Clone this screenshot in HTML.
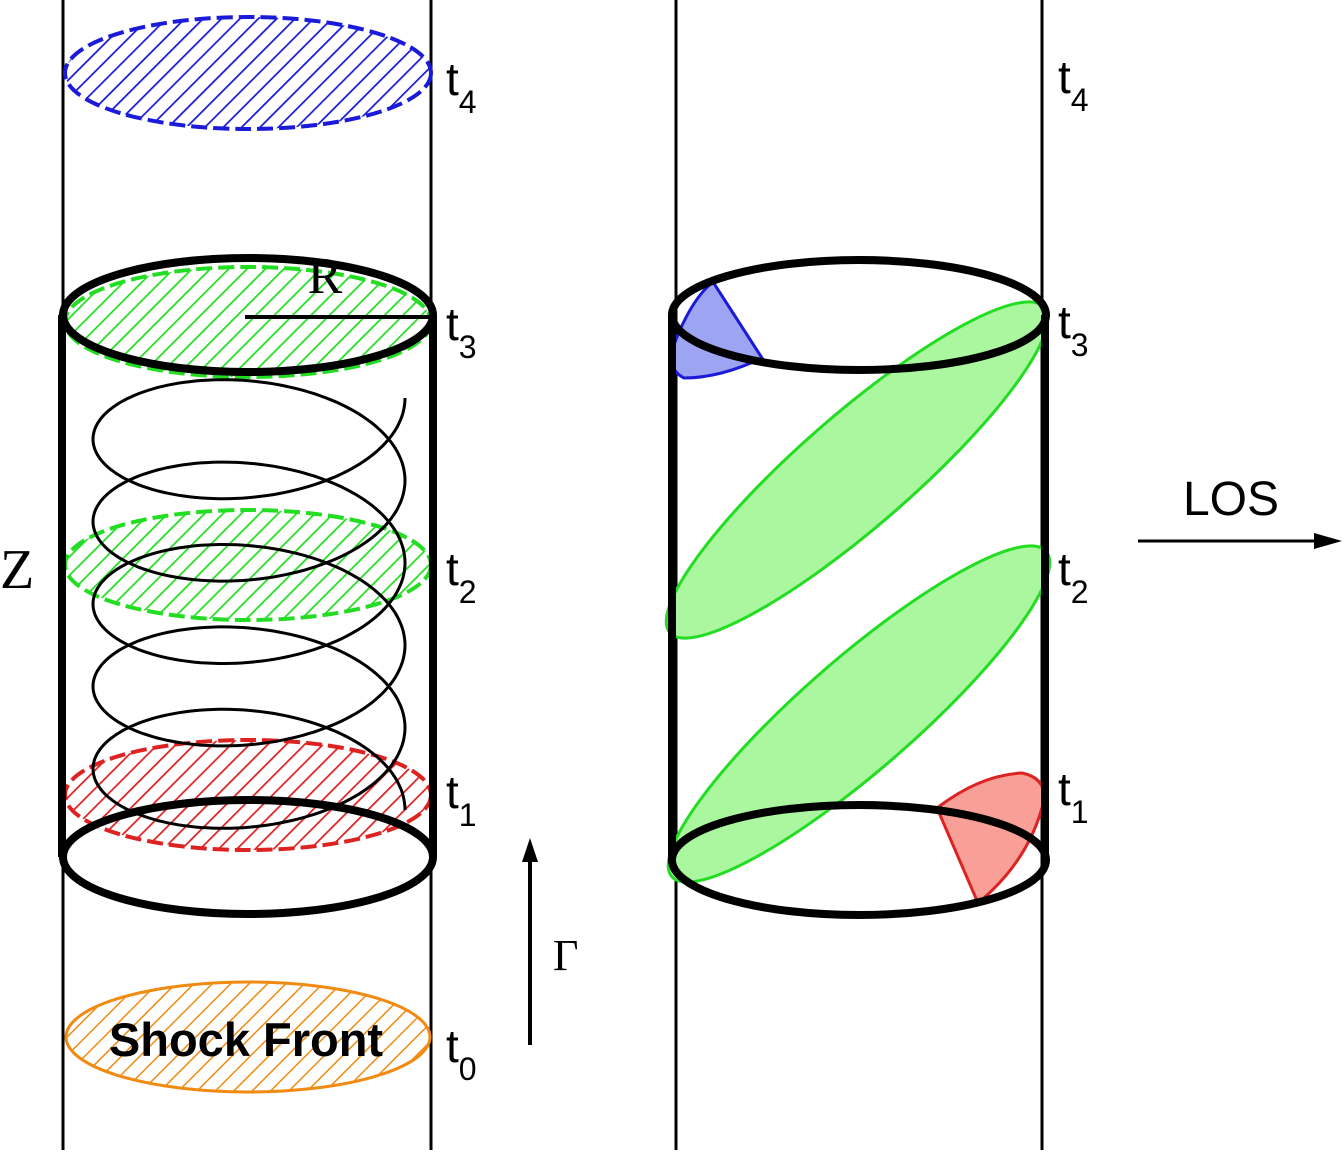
<!DOCTYPE html>
<html><head><meta charset="utf-8"><style>
html,body{margin:0;padding:0;background:#fff;}
svg{display:block;}
text{font-family:"Liberation Sans",sans-serif;}
.serif{font-family:"Liberation Serif",serif;}
</style></head><body>
<svg width="1344" height="1153" viewBox="0 0 1344 1153">
<defs>
<pattern id="hb" width="13" height="13" patternUnits="userSpaceOnUse" patternTransform="rotate(45)"><line x1="0" y1="0" x2="0" y2="13" stroke="#1a1ad8" stroke-width="3.5"/></pattern>
<pattern id="hg" width="13" height="13" patternUnits="userSpaceOnUse" patternTransform="rotate(45)"><line x1="0" y1="0" x2="0" y2="13" stroke="#22dd22" stroke-width="3.5"/></pattern>
<pattern id="hr" width="13" height="13" patternUnits="userSpaceOnUse" patternTransform="rotate(45)"><line x1="0" y1="0" x2="0" y2="13" stroke="#dd2222" stroke-width="3.5"/></pattern>
<pattern id="ho" width="13" height="13" patternUnits="userSpaceOnUse" patternTransform="rotate(45)"><line x1="0" y1="0" x2="0" y2="13" stroke="#f08a10" stroke-width="3"/></pattern>
</defs>

<!-- LEFT PANEL -->
<g>
<line x1="63" y1="0" x2="63" y2="1150" stroke="#000" stroke-width="3"/>
<line x1="431" y1="0" x2="431" y2="1150" stroke="#000" stroke-width="3"/>
<ellipse cx="248" cy="73" rx="183" ry="56" fill="url(#hb)" stroke="#1a1ad8" stroke-width="4" stroke-dasharray="16 6"/>
<ellipse cx="248" cy="322" rx="183" ry="55" fill="url(#hg)" stroke="#22dd22" stroke-width="4" stroke-dasharray="16 6"/>
<ellipse cx="248" cy="565" rx="183" ry="55" fill="url(#hg)" stroke="#22dd22" stroke-width="4" stroke-dasharray="16 6"/>
<ellipse cx="248" cy="795" rx="183" ry="55" fill="url(#hr)" stroke="#dd2222" stroke-width="4" stroke-dasharray="16 6"/>
<ellipse cx="248" cy="1037" rx="182" ry="55" fill="url(#ho)" stroke="#f08a10" stroke-width="3"/>
<text x="246" y="1056" text-anchor="middle" font-size="47" font-weight="bold">Shock Front</text>
<path id="helix" fill="none" stroke="#000" stroke-width="3"/>
<line x1="62" y1="315" x2="62" y2="857" stroke="#000" stroke-width="8"/>
<line x1="433" y1="315" x2="433" y2="857" stroke="#000" stroke-width="8"/>
<ellipse cx="248" cy="315" rx="185" ry="57" fill="none" stroke="#000" stroke-width="8"/>
<ellipse cx="248" cy="857" rx="185" ry="57" fill="none" stroke="#000" stroke-width="8"/>
<line x1="245" y1="317" x2="431" y2="317" stroke="#000" stroke-width="4"/>
<text x="325" y="293" text-anchor="middle" font-size="52" class="serif">R</text>
<text x="0" y="588" font-size="56" class="serif">Z</text>
<line x1="530" y1="1045" x2="530" y2="858" stroke="#000" stroke-width="4"/>
<polygon points="530,838 522,862 538,862" fill="#000"/>
<text x="553" y="970" font-size="44" class="serif">Γ</text>
<g font-size="46">
<text x="446" y="95">t<tspan font-size="32" dy="18">4</tspan></text>
<text x="446" y="340">t<tspan font-size="32" dy="18">3</tspan></text>
<text x="446" y="585">t<tspan font-size="32" dy="18">2</tspan></text>
<text x="446" y="808">t<tspan font-size="32" dy="18">1</tspan></text>
<text x="446" y="1062">t<tspan font-size="32" dy="18">0</tspan></text>
</g>
</g>

<!-- RIGHT PANEL -->
<g>
<line x1="676" y1="0" x2="676" y2="1150" stroke="#000" stroke-width="3"/>
<line x1="1042" y1="0" x2="1042" y2="1150" stroke="#000" stroke-width="3"/>
<ellipse cx="857" cy="470" rx="248" ry="56" transform="rotate(-41 857 470)" fill="#aaf7a0" stroke="#22dd22" stroke-width="3"/>
<ellipse cx="859" cy="714" rx="248" ry="56" transform="rotate(-41 859 714)" fill="#aaf7a0" stroke="#22dd22" stroke-width="3"/>
<path d="M713,282 L762,358 Q720,378 684,378 Q668,370 672,350 Q690,300 713,282 Z" fill="#9da4f2" stroke="#1a1ad8" stroke-width="3"/>
<path d="M937,808 Q980,775 1022,773 Q1046,778 1044,800 Q1030,860 978,903 Z" fill="#f8a098" stroke="#dd2222" stroke-width="3"/>
<line x1="672" y1="315" x2="672" y2="860" stroke="#000" stroke-width="8"/>
<line x1="1045" y1="315" x2="1045" y2="860" stroke="#000" stroke-width="8"/>
<ellipse cx="859" cy="315" rx="187" ry="55" fill="none" stroke="#000" stroke-width="8"/>
<ellipse cx="859" cy="860" rx="187" ry="55" fill="none" stroke="#000" stroke-width="8"/>
<g font-size="46">
<text x="1058" y="93">t<tspan font-size="32" dy="18">4</tspan></text>
<text x="1058" y="338">t<tspan font-size="32" dy="18">3</tspan></text>
<text x="1058" y="585">t<tspan font-size="32" dy="18">2</tspan></text>
<text x="1058" y="805">t<tspan font-size="32" dy="18">1</tspan></text>
</g>
<text x="1231" y="515" text-anchor="middle" font-size="48">LOS</text>
<line x1="1138" y1="541" x2="1318" y2="541" stroke="#000" stroke-width="3"/>
<polygon points="1342,541 1314,533 1314,549" fill="#000"/>
</g>
</svg>
<script>
// helix geometry: 5 turns from bottom-right start to top-right end
const helixStart = [405, 810];
const helixEnd = [405, 398];
const helixTurns = [5];
(function(){
  const cx = 249, rx = 156, ry = 79;
  const n = helixTurns[0];
  const steps = 800;
  let d = '';
  for (let i = 0; i <= steps; i++) {
    const t = i / steps;
    const th = t * n * 2 * Math.PI;
    const yc = helixStart[1] + (helixEnd[1] - helixStart[1]) * t;
    const x = cx + rx * Math.cos(th);
    const y = yc - ry * Math.sin(th);
    d += (i ? 'L' : 'M') + x.toFixed(1) + ',' + y.toFixed(1);
  }
  document.getElementById('helix').setAttribute('d', d);
})();
</script>
</body></html>
